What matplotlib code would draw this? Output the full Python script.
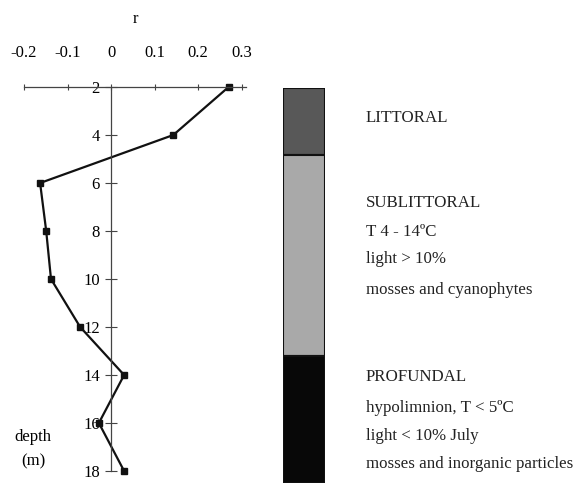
import matplotlib.pyplot as plt
import numpy as np

plt.rcParams['font.family'] = ['Liberation Serif', 'DejaVu Serif']

depth = [2, 4, 6, 8, 10, 12, 14, 16, 18]
r_vals = [0.27, 0.143, -0.163, -0.149, -0.138, -0.071, 0.03, -0.028, 0.03]
r_ticks = [-0.2, -0.1, 0, 0.1, 0.2, 0.3]
r_ticklabels = ['-0.2', '-0.1', '0', '0.1', '0.2', '0.3']
depth_ticks = [2, 4, 6, 8, 10, 12, 14, 16, 18]

zone_bounds = [2, 4.8, 13.2, 18.5]
zone_colors = ['#585858', '#a9a9a9', '#080808']
zone_text = [
    ['LITTORAL'],
    ['SUBLITTORAL', 'T 4 - 14ºC', 'light > 10%', 'mosses and cyanophytes'],
    ['PROFUNDAL', 'hypolimnion, T < 5ºC', 'light < 10% July', 'mosses and inorganic particles'],
]

W, H = 575, 483
fig = plt.figure(figsize=(W / 100, H / 100), dpi=100)

# profile axes
ax = fig.add_axes([24 / W, 1 - 471 / H, 222 / W, 384 / H])
ax.plot(r_vals, depth, color='#111111', lw=1.6, marker='s', ms=4, clip_on=False)
ax.set_xlim(-0.2, 0.31)
ax.set_ylim(18, 2)
ax.spines['left'].set_position(('data', 0))
ax.spines['right'].set_visible(False)
ax.spines['bottom'].set_visible(False)
for s in ['left', 'top']:
    ax.spines[s].set_color('#444444')
    ax.spines[s].set_linewidth(0.9)
ax.xaxis.tick_top()
ax.set_xticks(r_ticks)
ax.set_xticklabels(r_ticklabels)
ax.set_yticks(depth_ticks)
ax.tick_params(axis='x', direction='inout', length=5, pad=16, labelsize=12, color='#444444')
ax.tick_params(axis='y', direction='inout', length=8, pad=4, labelsize=12, color='#444444')
ax.set_xlabel('r', fontsize=12)
ax.xaxis.set_label_position('top')
ax.xaxis.labelpad = 16
ax.patch.set_alpha(0)
fig.text(33 / W, 1 - 437 / H, 'depth', fontsize=12, ha='center', va='center')
fig.text(33 / W, 1 - 461 / H, '(m)', fontsize=12, ha='center', va='center')

# zone bar
bx = fig.add_axes([283 / W, 0, 42 / W, 1 - 88 / H])
for i in range(len(zone_colors)):
    bx.bar(0, zone_bounds[i + 1] - zone_bounds[i], bottom=zone_bounds[i], width=1,
           color=zone_colors[i], edgecolor='#111111', lw=1.5)
bx.set_xlim(-0.5, 0.5)
bx.set_ylim(18.5, 2)
bx.axis('off')

text_y = [[118], [203, 232, 259, 290], [377, 408, 436, 464]]
for lines, ys in zip(zone_text, text_y):
    for t, y in zip(lines, ys):
        fig.text(366 / W, 1 - y / H, t, fontsize=12.2, ha='left', va='center', color='#222222')

fig.savefig('out.png', dpi=100)
